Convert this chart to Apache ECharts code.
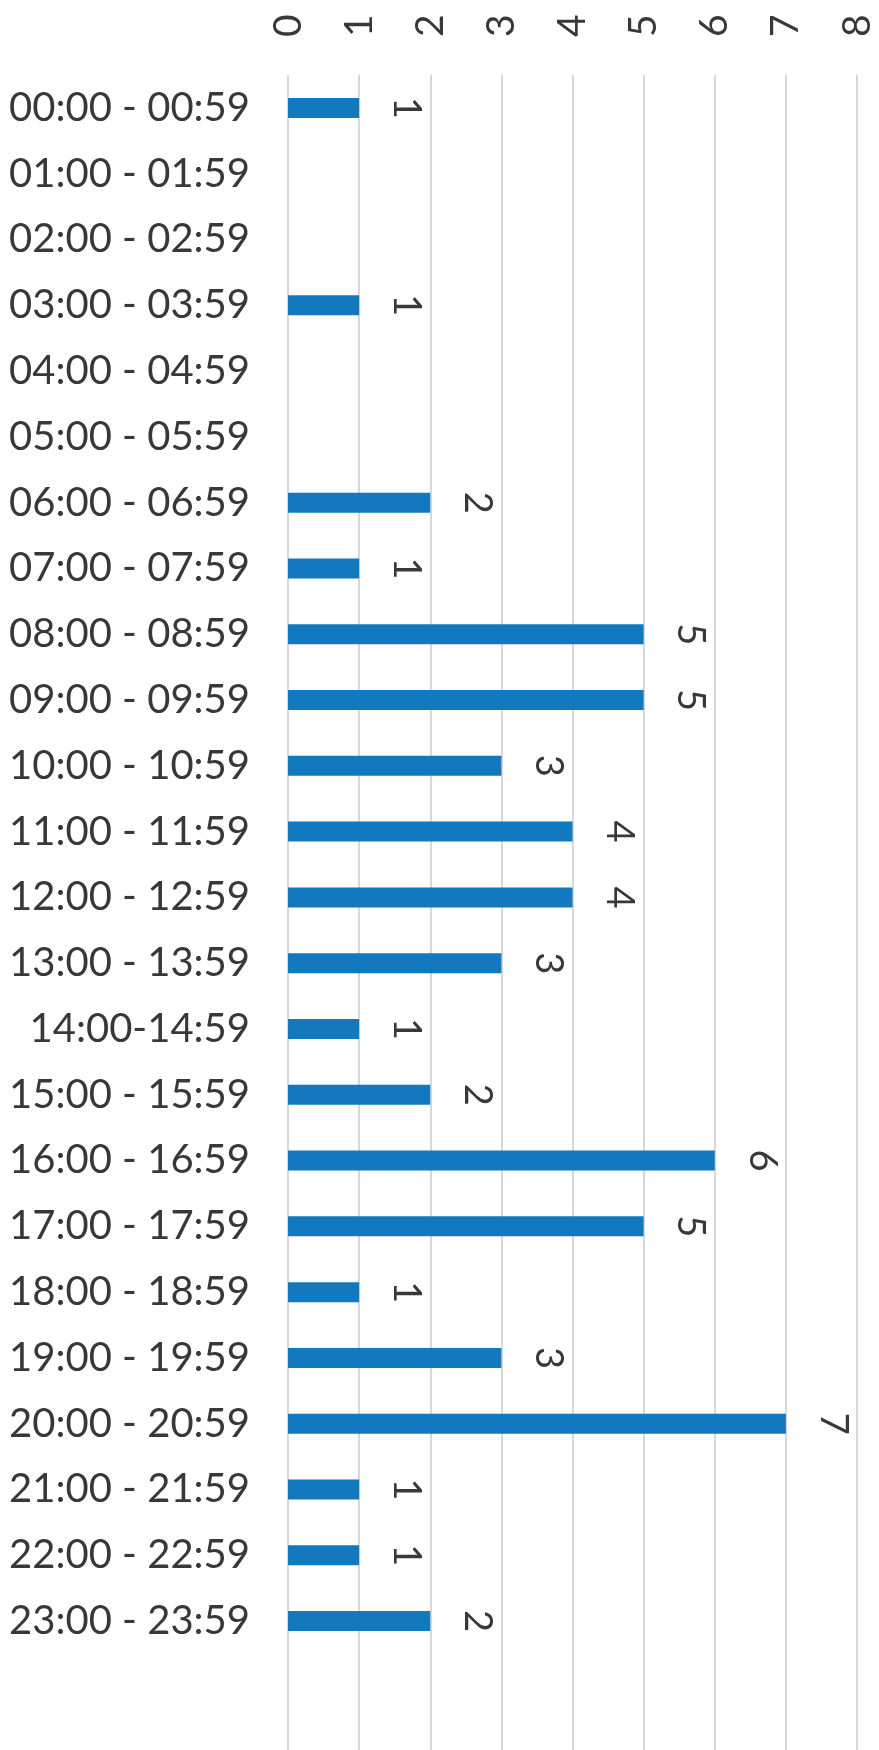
<!DOCTYPE html>
<html>
<head>
<meta charset="utf-8">
<title>Count by hour of day</title>
<script src="https://cdn.jsdelivr.net/npm/echarts@6/dist/echarts.min.js"></script>
<style>
  html, body { margin: 0; padding: 0; background: #ffffff; }
  #chart { width: 879px; height: 1750px; }
</style>
</head>
<body>
<div id="chart"></div>
<script>
// Hour-of-day buckets, top to bottom
const hourSlots = [
  '00:00 - 00:59', '01:00 - 01:59', '02:00 - 02:59', '03:00 - 03:59',
  '04:00 - 04:59', '05:00 - 05:59', '06:00 - 06:59', '07:00 - 07:59',
  '08:00 - 08:59', '09:00 - 09:59', '10:00 - 10:59', '11:00 - 11:59',
  '12:00 - 12:59', '13:00 - 13:59', '14:00-14:59', '15:00 - 15:59',
  '16:00 - 16:59', '17:00 - 17:59', '18:00 - 18:59', '19:00 - 19:59',
  '20:00 - 20:59', '21:00 - 21:59', '22:00 - 22:59', '23:00 - 23:59'
];

// Count in each bucket
const counts = [1, 0, 0, 1, 0, 0, 2, 1, 5, 5, 3, 4, 4, 3, 1, 2, 6, 5, 1, 3, 7, 1, 1, 2];

// Value scale
const valueMin = 0;
const valueMax = 8;
const valueStep = 1;

const textColor = '#383838';
const gridColor = '#d7d7dd';
const barColor = '#1279bf';
const fontFamily = 'Lato, "Open Sans", sans-serif';

const chart = echarts.init(document.getElementById('chart'), null, { renderer: 'canvas' });

chart.setOption({
  backgroundColor: '#ffffff',
  animation: false,
  grid: [
    { left: 288, right: 22, top: 75, height: 1579 },
    // gridlines continue below the last bucket
    { left: 288, right: 22, top: 1654, bottom: 0 }
  ],
  xAxis: [
    {
      type: 'value',
      gridIndex: 0,
      position: 'top',
      min: valueMin,
      max: valueMax,
      interval: valueStep,
      axisLine: { show: false },
      axisTick: { show: false },
      axisLabel: {
        rotate: -90,
        margin: 38,
        color: textColor,
        fontFamily: fontFamily,
        fontSize: 39
      },
      splitLine: { show: true, lineStyle: { color: gridColor, width: 2 } }
    },
    {
      type: 'value',
      gridIndex: 1,
      min: valueMin,
      max: valueMax,
      interval: valueStep,
      axisLine: { show: false },
      axisTick: { show: false },
      axisLabel: { show: false },
      splitLine: { show: true, lineStyle: { color: gridColor, width: 2 } }
    }
  ],
  yAxis: [
    {
      type: 'category',
      gridIndex: 0,
      data: hourSlots,
      inverse: true,
      axisLine: { show: false },
      axisTick: { show: false },
      axisLabel: {
        margin: 38,
        color: textColor,
        fontFamily: fontFamily,
        fontSize: 40
      },
      splitLine: { show: false }
    },
    {
      type: 'value',
      gridIndex: 1,
      show: false,
      min: 0,
      max: 1
    }
  ],
  series: [
    {
      type: 'bar',
      xAxisIndex: 0,
      yAxisIndex: 0,
      data: counts,
      barWidth: 20,
      itemStyle: { color: barColor },
      label: {
        show: true,
        position: 'right',
        distance: 47,
        rotate: -90,
        align: 'center',
        verticalAlign: 'middle',
        color: textColor,
        fontFamily: fontFamily,
        fontSize: 38,
        formatter: p => (p.value ? String(p.value) : '')
      }
    }
  ]
});
</script>
</body>
</html>
